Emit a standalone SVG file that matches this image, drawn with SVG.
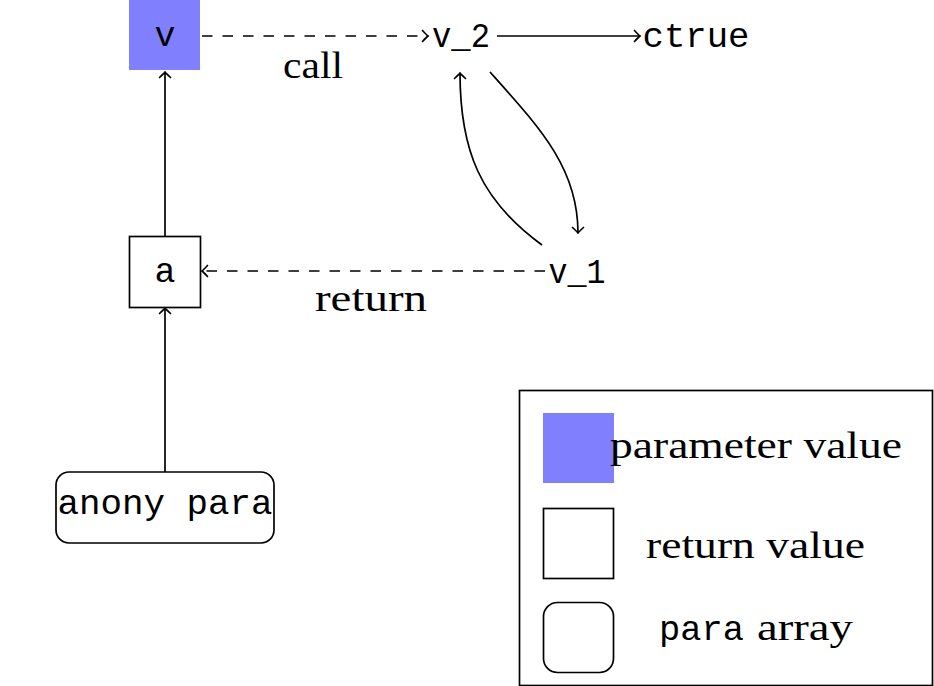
<svg xmlns="http://www.w3.org/2000/svg" width="934" height="686" viewBox="0 0 934 686">
<defs>
<marker id="arr" markerUnits="userSpaceOnUse" markerWidth="14" markerHeight="14" viewBox="-8 -7 10 14" refX="0" refY="0" orient="auto" overflow="visible">
<path d="M-5.5,-5.5 Q-1.5,-1.2 0,0 Q-1.5,1.2 -5.5,5.5" fill="none" stroke="#000" stroke-width="1.7" stroke-linecap="round"/>
</marker>
<style>
.tt{font-family:"Liberation Mono","DejaVu Sans Mono",monospace;font-size:35px;fill:#000}
.rm{font-family:"Liberation Serif","DejaVu Serif",serif;font-size:37px;fill:#000}
.ln{fill:none;stroke:#000;stroke-width:1.7;marker-end:url(#arr)}
.dash{stroke-dasharray:10.5 10}
.box{fill:#fff;stroke:#000;stroke-width:1.7}
.param{fill:#8080ff;stroke:none}
</style>
</defs>
<rect width="934" height="686" fill="#fff"/>
<g id="connectors">
<path class="ln dash" d="M202,36 H428"/>
<path class="ln" d="M497,36 H640"/>
<path class="ln" d="M490,72 C540,128 578,168 578,233"/>
<path class="ln" d="M542,245 C480,200 460,150 460,73"/>
<path class="ln dash" d="M545,271 H202"/>
<path class="ln" d="M165,236 V72"/>
<path class="ln" d="M165,472 V308"/>
<text class="rm" x="313" y="78" text-anchor="middle" textLength="60" lengthAdjust="spacingAndGlyphs">call</text>
<text class="rm" x="371" y="311" text-anchor="middle" textLength="112" lengthAdjust="spacingAndGlyphs">return</text>
</g>
<g id="node-v">
<rect class="param" x="129" y="0" width="71" height="70"/>
<text class="tt" x="165" y="46" text-anchor="middle">v</text>
</g>
<g id="node-v2">
<text class="tt" x="461" y="47" text-anchor="middle" textLength="58" lengthAdjust="spacingAndGlyphs">v_2</text>
</g>
<g id="node-ctrue">
<text class="tt" x="696" y="47" text-anchor="middle" textLength="107" lengthAdjust="spacingAndGlyphs">ctrue</text>
</g>
<g id="node-v1">
<text class="tt" x="577" y="283" text-anchor="middle" textLength="57" lengthAdjust="spacingAndGlyphs">v_1</text>
</g>
<g id="node-a">
<rect class="box" x="129.5" y="236.5" width="71" height="71"/>
<text class="tt" x="165" y="282" text-anchor="middle">a</text>
</g>
<g id="node-anony">
<rect class="box" x="56" y="472" width="218" height="71" rx="13"/>
<text class="tt" x="165" y="514" text-anchor="middle" textLength="215" lengthAdjust="spacingAndGlyphs">anony para</text>
</g>
<g id="legend">
<rect x="519.5" y="390.5" width="413" height="295" fill="#fff" stroke="#000" stroke-width="1.7"/>
<rect class="param" x="543" y="413" width="71" height="70"/>
<text class="rm" x="610" y="458" textLength="292" lengthAdjust="spacingAndGlyphs">parameter value</text>
<rect class="box" x="543.5" y="508.5" width="70" height="70"/>
<text class="rm" x="646" y="558" textLength="219" lengthAdjust="spacingAndGlyphs">return value</text>
<rect class="box" x="543.5" y="602.5" width="70" height="70" rx="14"/>
<text class="tt" x="659" y="640" textLength="85" lengthAdjust="spacingAndGlyphs">para</text>
<text class="rm" x="757" y="640" textLength="96" lengthAdjust="spacingAndGlyphs">array</text>
</g>
</svg>
